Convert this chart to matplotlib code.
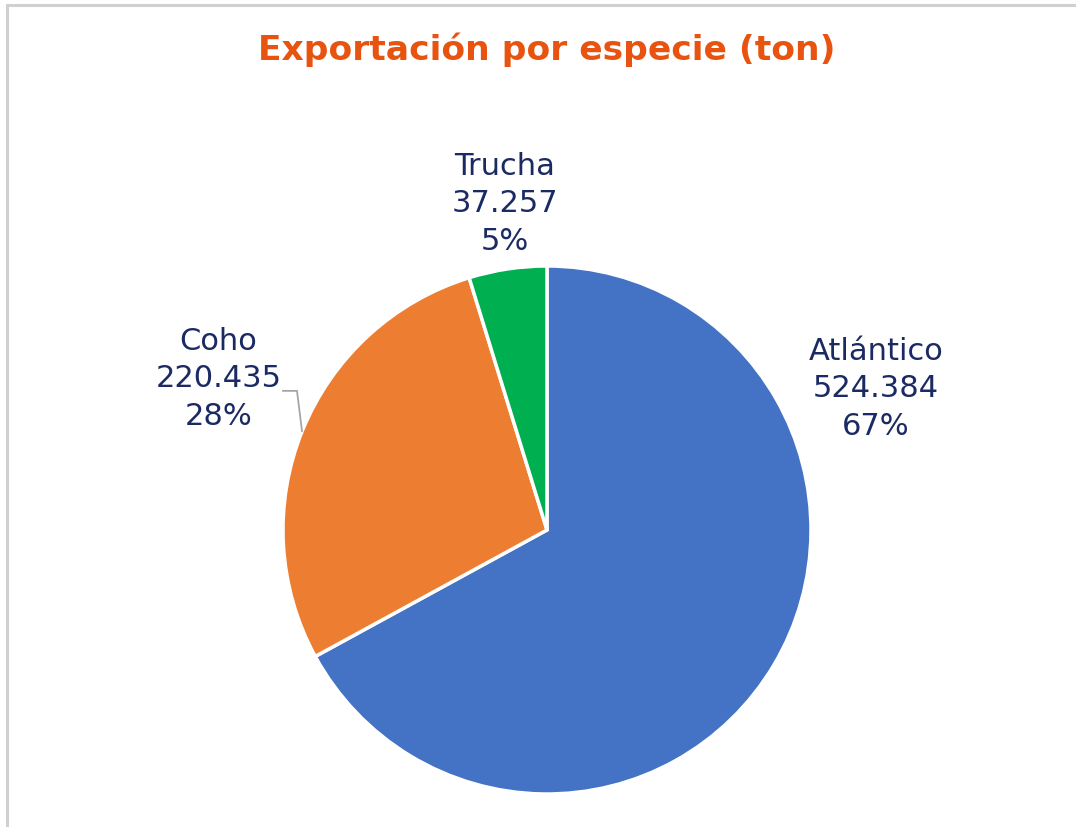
import matplotlib
matplotlib.use("Agg")
import matplotlib.pyplot as plt
from matplotlib.patches import Rectangle

categories = ["Atlántico", "Coho", "Trucha"]
values = [524384, 220435, 37257]
colors = ["#4472C4", "#ED7D31", "#00B050"]
title = "Exportación por especie (ton)"

W, H = 1076, 828
fig = plt.figure(figsize=(W / 100, H / 100), dpi=100)
fig.patch.set_facecolor("white")

# border
fig.patches.append(Rectangle((6.5 / W, -0.01), 1.1, (H - 5.5) / H + 0.01,
                             transform=fig.transFigure, fill=False,
                             edgecolor="#D0D0D0", linewidth=2.2))

cx, cy, r = 547, 531, 264
ax = fig.add_axes([(cx - r) / W, (H - cy - r) / H, 2 * r / W, 2 * r / H])
ax.pie(values, colors=colors, startangle=90, counterclock=False, radius=1,
       wedgeprops=dict(edgecolor="white", linewidth=2.5))
ax.set_xlim(-1, 1)
ax.set_ylim(-1, 1)
ax.set_aspect("auto")
ax.axis("off")

total = sum(values)
label_pos = [(1.246, 0.538), (-1.245, 0.576), (-0.159, 1.239)]
for cat, v, (x, y) in zip(categories, values, label_pos):
    num = f"{v:,}".replace(",", ".")
    pct = f"{round(v / total * 100):.0f}%"
    ax.text(x, y, f"{cat}\n{num}\n{pct}", ha="center", va="center",
            fontsize=22, color="#1B2A63", family="DejaVu Sans",
            linespacing=1.38, clip_on=False)

# leader line for Coho
ax.plot([-1.0, -0.947, -0.928], [0.527, 0.527, 0.375], color="#A6A6A6",
        linewidth=1.3, clip_on=False)

fig.text(547 / W, 1 - 50 / H, title, ha="center", va="center",
         fontsize=24.8, fontweight="bold", color="#E8540F", family="DejaVu Sans")

fig.savefig("out.png", dpi=100, facecolor="white")
